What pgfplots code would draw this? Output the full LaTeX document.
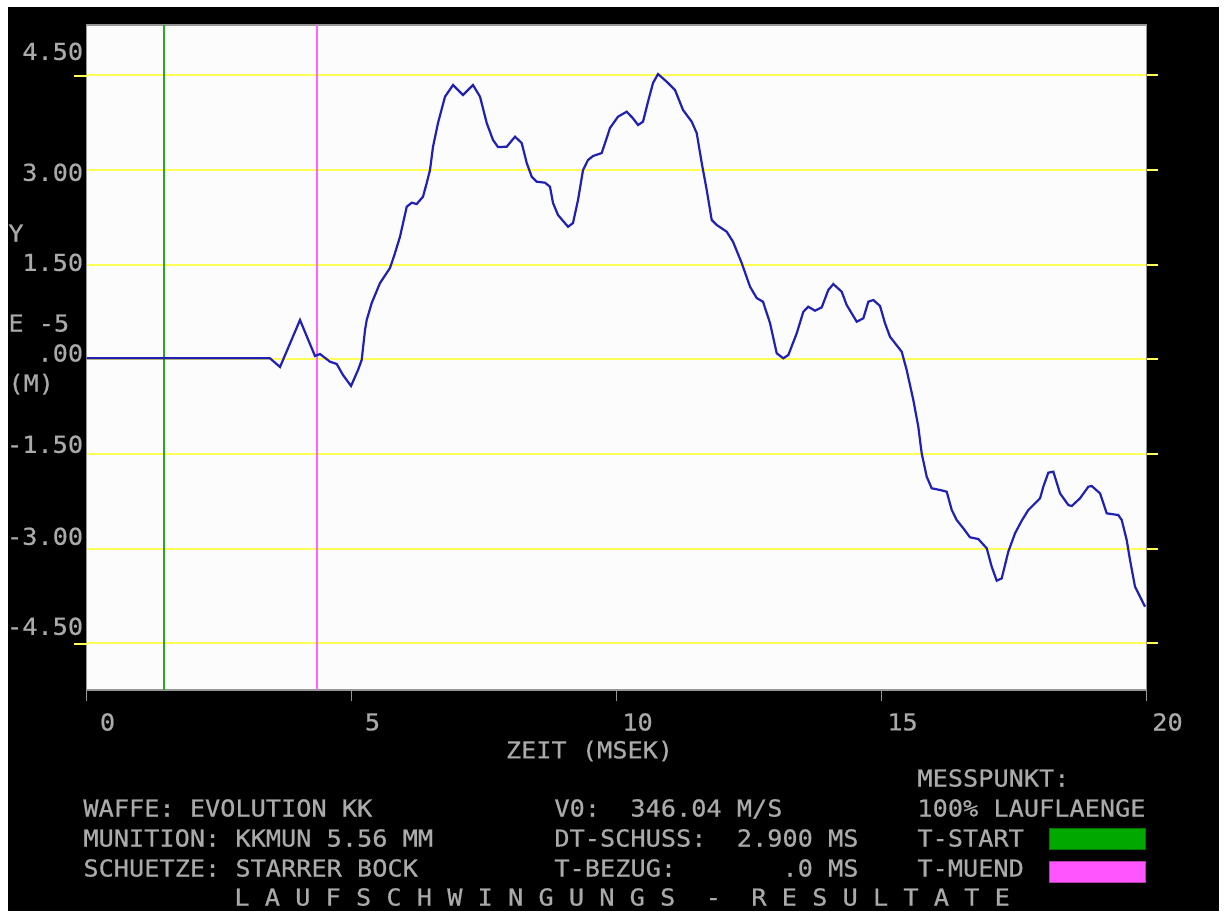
\documentclass[border=0pt]{standalone}
\usepackage{pgfplots}
\pgfplotsset{compat=1.18}
\usepackage{fontspec}
\newfontfamily\dos[FakeStretch=1.083, FakeBold=0.6]{DejaVu Sans Mono}
\newcommand\dosf{\dos\fontsize{11.66pt}{14pt}\selectfont}
\definecolor{dosgray}{RGB}{170,170,170}
\definecolor{axisgray}{RGB}{150,150,150}
\definecolor{dosyellow}{RGB}{255,255,85}
\definecolor{curveblue}{RGB}{32,32,180}
\definecolor{tgreen}{RGB}{40,170,40}
\definecolor{tmag}{RGB}{255,100,255}
\definecolor{boxgreen}{RGB}{0,168,0}
\definecolor{boxmag}{RGB}{255,85,255}
\definecolor{plotbg}{RGB}{252,252,252}

\begin{document}
\begin{tikzpicture}[x=1pt,y=1pt]
\path[use as bounding box] (0,0) rectangle (612,-455.5);
\fill[white] (0,0) rectangle (612,-455.5);
\fill[black] (4,-3.5) rectangle (609.5,-455.5);
\begin{axis}[
  at={(43.25pt,-345pt)}, anchor=south west,
  scale only axis, width=530pt, height=332.5pt,
  xmin=0, xmax=20, ymin=-5.241, ymax=5.298,
  axis background/.style={fill=plotbg},
  axis line style={draw=axisgray, line width=0.7pt},
  major tick length=5.5pt,
  xtick={0,5,10,15,20},
  xticklabels={0,5,10,15,20},
  xtick pos=left, xtick align=outside,
  xtick style={draw=axisgray, line width=0.7pt},
  xticklabel style={font=\dosf, text=dosgray, anchor=center, inner sep=0pt, xshift=10.5pt, yshift=-10.5pt},
  ytick={-4.5,-3,-1.5,0,1.5,3,4.5},
  yticklabels={\raisebox{4.25pt}[0pt][0pt]{-4.50},\raisebox{1.9pt}[0pt][0pt]{-3.00},\raisebox{0.6pt}[0pt][0pt]{-1.50},\raisebox{-1.1pt}[0pt][0pt]{.00},\raisebox{-3.1pt}[0pt][0pt]{1.50},\raisebox{-5.4pt}[0pt][0pt]{3.00},\raisebox{7.75pt}[0pt][0pt]{4.50}},
  ytick pos=right, yticklabel pos=left, ytick align=outside,
  ytick style={draw=dosyellow, line width=0.9pt},
  yticklabel style={font=\dosf, text=dosgray, anchor=east, inner sep=0pt, xshift=4pt},
  ymajorgrids, y grid style={draw=dosyellow, line width=0.9pt},
  xlabel={ZEIT~(MSEK)},
  every axis x label/.style={at={(rel axis cs:0.5,0)}, anchor=center, xshift=-13.5pt, yshift=-30.5pt, font=\dosf, text=dosgray},
]
\addplot[tgreen, line width=1pt] coordinates {(1.457,-5.241) (1.457,5.298)};
\addplot[tmag, line width=1pt] coordinates {(4.349,-5.241) (4.349,5.298)};
\addplot[curveblue, line width=1.1pt] coordinates {
(0,0.016) (3.462,0.016) (3.651,-0.122) (4.028,0.623) (4.311,0.052) (4.406,0.084)
(4.594,-0.038) (4.721,-0.074) (4.840,-0.249) (4.991,-0.423) (5.123,-0.170) (5.192,-0.011)
(5.255,0.464) (5.287,0.623) (5.381,0.892) (5.538,1.209) (5.726,1.447) (5.821,1.685)
(5.915,1.943) (6.042,2.418) (6.136,2.482) (6.230,2.461) (6.349,2.577) (6.419,2.794)
(6.481,3.000) (6.538,3.369) (6.632,3.745) (6.764,4.162) (6.915,4.347) (7.104,4.189)
(7.292,4.347) (7.425,4.162) (7.551,3.745) (7.670,3.476) (7.764,3.364) (7.928,3.369)
(8.085,3.528) (8.211,3.428) (8.306,3.111) (8.400,2.894) (8.494,2.815) (8.651,2.799)
(8.745,2.735) (8.802,2.477) (8.896,2.287) (9.085,2.101) (9.179,2.160) (9.274,2.525)
(9.368,3.000) (9.462,3.158) (9.557,3.222) (9.721,3.269) (9.877,3.666) (10.028,3.845)
(10.192,3.924) (10.311,3.819) (10.406,3.713) (10.500,3.766) (10.594,4.082) (10.689,4.379)
(10.783,4.521) (10.947,4.399) (11.104,4.268) (11.255,3.951) (11.419,3.766) (11.513,3.586)
(11.608,3.111) (11.702,2.683) (11.796,2.208) (11.891,2.129) (12.079,2.022) (12.198,1.864)
(12.362,1.526) (12.519,1.151) (12.645,0.971) (12.764,0.913) (12.896,0.575) (13.023,0.095)
(13.147,0.016) (13.242,0.068) (13.400,0.412) (13.525,0.754) (13.619,0.834) (13.745,0.770)
(13.872,0.824) (13.996,1.098) (14.091,1.193) (14.249,1.071) (14.343,0.861) (14.532,0.596)
(14.657,0.650) (14.751,0.913) (14.845,0.940) (14.972,0.845) (15.066,0.571) (15.160,0.358)
(15.381,0.120) (15.475,-0.170) (15.600,-0.645) (15.694,-1.068) (15.758,-1.490) (15.853,-1.861)
(15.947,-2.044) (16.104,-2.071) (16.230,-2.098) (16.325,-2.388) (16.419,-2.547) (16.543,-2.678)
(16.670,-2.821) (16.826,-2.848) (16.985,-2.995) (17.079,-3.287) (17.174,-3.509) (17.268,-3.471)
(17.392,-3.049) (17.519,-2.758) (17.645,-2.558) (17.770,-2.388) (17.991,-2.203) (18.053,-2.019)
(18.147,-1.797) (18.242,-1.781) (18.368,-2.124) (18.525,-2.309) (18.589,-2.325) (18.745,-2.203)
(18.902,-2.019) (18.966,-2.008) (19.123,-2.124) (19.249,-2.441) (19.468,-2.468) (19.532,-2.547)
(19.626,-2.864) (19.689,-3.181) (19.783,-3.604) (19.877,-3.762) (19.972,-3.921)
};
\end{axis}
% short yellow extensions left of the axis at +-4.50
\draw[dosyellow, line width=0.9pt] (37,-38) -- (43.25,-38);
\draw[dosyellow, line width=0.9pt] (37,-322) -- (43.25,-322);
% y-axis caption pieces
\begin{scope}[every node/.style={anchor=base west, inner sep=0pt, font=\dosf, text=dosgray}]
\node at (4,-120.75) {Y};
\node at (4,-165.75) {E~-5};
\node at (4,-195.75) {(M)};
% info block
\node at (41.5,-408.25) {WAFFE:~EVOLUTION~KK};
\node at (41.5,-423.25) {MUNITION:~KKMUN~5.56~MM};
\node at (41.5,-438.25) {SCHUETZE:~STARRER~BOCK};
\node at (277,-408.25) {V0:~~346.04~M/S};
\node at (277,-423.25) {DT-SCHUSS:~~2.900~MS};
\node at (277,-438.25) {T-BEZUG:~~~~~~~.0~MS};
\node at (458.5,-393.25) {MESSPUNKT:};
\node at (458.5,-408.25) {100\%~LAUFLAENGE};
\node at (458.5,-423.25) {T-START};
\node at (458.5,-438.25) {T-MUEND};
\node at (117,-452.75) {L~A~U~F~S~C~H~W~I~N~G~U~N~G~S~~-~~R~E~S~U~L~T~A~T~E};
\end{scope}
\draw[fill=boxgreen, draw=boxgreen!70!black, line width=0.5pt] (524.5,-414) rectangle (572.5,-424.5);
\draw[fill=boxmag, draw=boxmag!70!black, line width=0.5pt] (524.5,-430.5) rectangle (572.5,-441);
\end{tikzpicture}
\end{document}
